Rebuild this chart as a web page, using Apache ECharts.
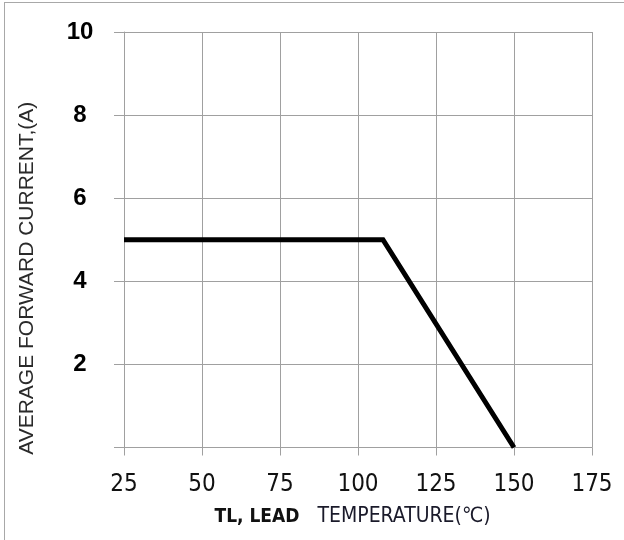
<!DOCTYPE html>
<html>
<head>
<meta charset="utf-8">
<script src="https://cdn.jsdelivr.net/npm/echarts@6/dist/echarts.min.js"></script>
<style>
  html, body { margin: 0; padding: 0; background: #fff; }
  .frame {
    position: absolute; left: 4px; top: 2px; width: 620px; height: 538px;
    border-top: 1px solid #a8a8a8; border-left: 1px solid #a8a8a8;
  }
  .echart { position: absolute; left: 0; top: 0; width: 624px; height: 540px; }
</style>
</head>
<body>
<div class="frame"></div>
<div id="chart" class="echart"></div>
<script>
// derating curve: lead temperature (℃) vs average forward current (A)
const temps = [25, 108, 150];
const current = [5, 5, 0];
const xTicks = [25, 50, 75, 100, 125, 150, 175];
const yTicks = [0, 2, 4, 6, 8, 10];

const gridColor = '#a0a0a0';
const narrow = '"DejaVu Sans Condensed", "Liberation Sans", sans-serif';
const arial = '"Liberation Sans", Arial, sans-serif';

const myChart = echarts.init(document.getElementById('chart'), null, { renderer: 'canvas' });

const option = {
    backgroundColor: 'transparent',
    animation: false,
    grid: {
        left: 124,
        right: 32,
        top: 32,
        bottom: 92.5
    },
    xAxis: {
        type: 'value',
        min: xTicks[0],
        max: xTicks[xTicks.length - 1],
        interval: 25,
        name: '{b|TL, LEAD}{n|   TEMPERATURE(℃)}',
        nameLocation: 'middle',
        nameGap: 59,
        nameTextStyle: {
            padding: [0, 11, 0, 0],
            rich: {
                b: { fontFamily: narrow, fontWeight: 'bold', fontSize: 19, color: '#111' },
                n: { fontFamily: narrow, fontSize: 21, color: '#1a1a2a' }
            }
        },
        axisLine: { show: true, lineStyle: { color: gridColor, width: 1 } },
        axisTick: { show: true, length: 8, lineStyle: { color: gridColor } },
        axisLabel: {
            margin: 25,
            fontFamily: narrow,
            fontSize: 24,
            color: '#111'
        },
        splitLine: { show: true, lineStyle: { color: gridColor, width: 1 } }
    },
    yAxis: {
        type: 'value',
        min: yTicks[0],
        max: yTicks[yTicks.length - 1],
        interval: 2,
        name: 'AVERAGE FORWARD CURRENT,(A)',
        nameLocation: 'middle',
        nameRotate: 90,
        nameGap: 86,
        nameTextStyle: {
            fontFamily: arial,
            fontSize: 21,
            color: '#2a2a2a',
            padding: [0, 77, 0, 0]
        },
        axisLine: { show: true, lineStyle: { color: gridColor, width: 1 } },
        axisTick: { show: true, length: 10, lineStyle: { color: gridColor } },
        axisLabel: {
            align: 'center',
            margin: 44,
            fontFamily: arial,
            fontWeight: 'bold',
            fontSize: 24,
            color: '#000',
            formatter: v => (v === 0 ? '' : String(v))
        },
        splitLine: { show: true, lineStyle: { color: gridColor, width: 1 } }
    },
    series: [
        {
            type: 'line',
            data: temps.map((t, i) => [t, current[i]]),
            symbol: 'none',
            lineStyle: { color: '#000', width: 5, join: 'miter' }
        }
    ]
};

myChart.setOption(option);
</script>
</body>
</html>
